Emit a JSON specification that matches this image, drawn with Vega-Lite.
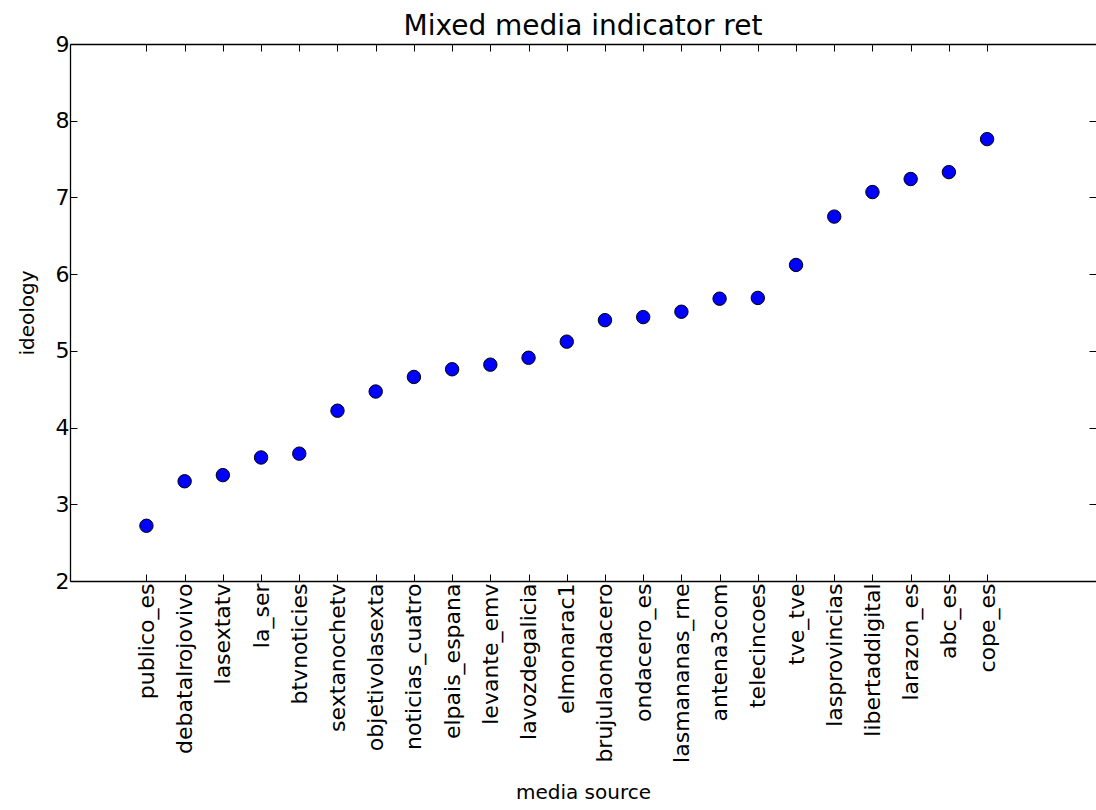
{
  "$schema": "https://vega.github.io/schema/vega-lite/v6.json",
  "autosize": {"type": "none"},
  "width": 1026,
  "height": 537,
  "padding": {"left": 70, "top": 44, "right": 0, "bottom": 229},
  "background": "white",
  "title": {"text": "Mixed media indicator ret", "fontSize": 28, "font": "DejaVu Sans", "fontWeight": "normal", "color": "#000", "offset": -8, "anchor": "middle"},
  "config": {
    "view": {"stroke": null},
    "axis": {"domain": true, "domainColor": "#000", "domainWidth": 1.3, "grid": false, "tickColor": "#000", "tickSize": -7, "tickWidth": 1, "labelFont": "DejaVu Sans", "labelFontSize": 22, "labelColor": "#000", "titleFont": "DejaVu Sans", "titleFontSize": 20, "titleFontWeight": "normal", "titleColor": "#000"}
  },
  "data": {"values": [
    {"idx": 0, "source": "publico_es", "ideology": 2.72},
    {"idx": 1, "source": "debatalrojovivo", "ideology": 3.30},
    {"idx": 2, "source": "lasextatv", "ideology": 3.38},
    {"idx": 3, "source": "la_ser", "ideology": 3.61},
    {"idx": 4, "source": "btvnoticies", "ideology": 3.66},
    {"idx": 5, "source": "sextanochetv", "ideology": 4.22},
    {"idx": 6, "source": "objetivolasexta", "ideology": 4.47},
    {"idx": 7, "source": "noticias_cuatro", "ideology": 4.66},
    {"idx": 8, "source": "elpais_espana", "ideology": 4.76},
    {"idx": 9, "source": "levante_emv", "ideology": 4.82},
    {"idx": 10, "source": "lavozdegalicia", "ideology": 4.91},
    {"idx": 11, "source": "elmonarac1", "ideology": 5.12},
    {"idx": 12, "source": "brujulaondacero", "ideology": 5.40},
    {"idx": 13, "source": "ondacero_es", "ideology": 5.44},
    {"idx": 14, "source": "lasmananas_rne", "ideology": 5.51},
    {"idx": 15, "source": "antena3com", "ideology": 5.68},
    {"idx": 16, "source": "telecincoes", "ideology": 5.69},
    {"idx": 17, "source": "tve_tve", "ideology": 6.12},
    {"idx": 18, "source": "lasprovincias", "ideology": 6.75},
    {"idx": 19, "source": "libertaddigital", "ideology": 7.07},
    {"idx": 20, "source": "larazon_es", "ideology": 7.24},
    {"idx": 21, "source": "abc_es", "ideology": 7.33},
    {"idx": 22, "source": "cope_es", "ideology": 7.76}
  ]},
  "layer": [
    {
      "mark": {"type": "point", "filled": true, "opacity": 0, "size": 180},
      "encoding": {
        "x": {"field": "idx", "type": "quantitative", "scale": {"domain": [-2, 24.85], "nice": false, "zero": false},
              "axis": {"orient": "top", "labels": false, "title": null, "values": [0,1,2,3,4,5,6,7,8,9,10,11,12,13,14,15,16,17,18,19,20,21,22]}},
        "y": {"field": "ideology", "type": "quantitative", "scale": {"domain": [2, 9], "nice": false, "zero": false},
              "axis": {"orient": "right", "domain": false, "labels": false, "title": null, "values": [2, 3, 4, 5, 6, 7, 8, 9]}}
      }
    },
    {
      "mark": {"type": "point", "filled": true, "fill": "#0000ff", "stroke": "#000", "strokeWidth": 1, "size": 180, "opacity": 1},
      "encoding": {
        "x": {"field": "idx", "type": "quantitative", "scale": {"domain": [-2, 24.85], "nice": false, "zero": false},
              "axis": {"orient": "bottom", "labelAngle": -90, "labelPadding": 9, "title": "media source", "titlePadding": 20,
                       "values": [0,1,2,3,4,5,6,7,8,9,10,11,12,13,14,15,16,17,18,19,20,21,22],
                       "labelExpr": "['publico_es','debatalrojovivo','lasextatv','la_ser','btvnoticies','sextanochetv','objetivolasexta','noticias_cuatro','elpais_espana','levante_emv','lavozdegalicia','elmonarac1','brujulaondacero','ondacero_es','lasmananas_rne','antena3com','telecincoes','tve_tve','lasprovincias','libertaddigital','larazon_es','abc_es','cope_es'][datum.value]"}},
        "y": {"field": "ideology", "type": "quantitative", "scale": {"domain": [2, 9], "nice": false, "zero": false},
              "axis": {"orient": "left", "title": "ideology", "labelPadding": 8, "titlePadding": 18, "values": [2, 3, 4, 5, 6, 7, 8, 9]}}
      }
    }
  ],
  "resolve": {"axis": {"x": "independent", "y": "independent"}}
}
